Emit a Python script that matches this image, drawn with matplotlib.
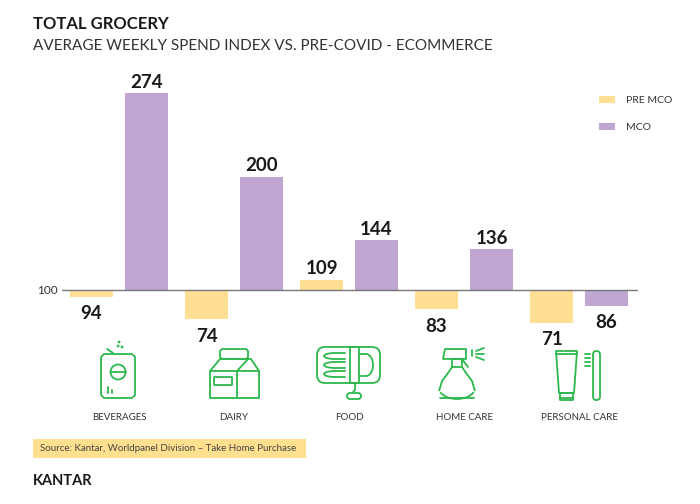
import matplotlib
matplotlib.use("Agg")
import matplotlib.pyplot as plt
import numpy as np
from matplotlib.patches import Rectangle, FancyBboxPatch, Polygon, Circle, Arc
from matplotlib.lines import Line2D

plt.rcParams['font.family'] = ['Lato', 'DejaVu Sans']

categories = ['BEVERAGES', 'DAIRY', 'FOOD', 'HOME CARE', 'PERSONAL CARE']
pre_mco = [94, 74, 109, 83, 71]
mco = [274, 200, 144, 136, 86]
baseline = 100
series_names = ['PRE MCO', 'MCO']

YELLOW = '#FFDF94'
PURPLE = '#BEA6D0'
GREEN = '#2DB84C'
TXT = '#1a1a1a'

W, H = 700, 504
fig = plt.figure(figsize=(7, 5.04), dpi=100)


def fx(px):
    return px / W


def fy(py):
    return 1 - py / H


# main axes: px x 62..638, px y 60..340
ax = fig.add_axes([fx(62), fy(340), fx(576), (340 - 60) / H])
ppu = 1.13  # pixels per index point
ax.set_ylim(baseline - 50 / ppu, baseline + 230 / ppu)
ax.set_xlim(-0.496, 4.513)
ax.axis('off')

x = np.arange(len(categories))
off = 0.239
bw = 0.374
b1 = ax.bar(x - off, np.array(pre_mco) - baseline, bw, bottom=baseline,
            color=YELLOW, label=series_names[0])
b2 = ax.bar(x + off, np.array(mco) - baseline, bw, bottom=baseline,
            color=PURPLE, label=series_names[1])
ax.axhline(baseline, color='#777777', lw=1.0, zorder=3)

for bars, vals in [(b1, pre_mco), (b2, mco)]:
    for r, v in zip(bars, vals):
        cx = r.get_x() + r.get_width() / 2
        if v >= baseline:
            ax.annotate(str(v), (cx, v), xytext=(0, 2), textcoords='offset points',
                        ha='center', va='bottom', fontsize=13.5, fontweight='bold',
                        color=TXT, annotation_clip=False)
        else:
            ax.annotate(str(v), (cx, v), xytext=(0, -6), textcoords='offset points',
                        ha='center', va='top', fontsize=13.5, fontweight='bold',
                        color=TXT, annotation_clip=False)

fig.text(fx(58), fy(290), str(baseline), ha='right', va='center',
         fontsize=8.5, color='#333333')

ax.legend(frameon=False, loc='upper left', bbox_to_anchor=(fx(599), fy(96)),
          bbox_transform=fig.transFigure, fontsize=7.5, handlelength=1.5,
          handleheight=0.6, handletextpad=1.05, labelspacing=1.75,
          borderpad=0, borderaxespad=0, labelcolor='#333333')

# titles
fig.text(fx(33), fy(24), 'TOTAL GROCERY', fontsize=12, fontweight='bold',
         color=TXT, va='center')
fig.text(fx(33), fy(46), 'AVERAGE WEEKLY SPEND INDEX VS. PRE-COVID - ECOMMERCE',
         fontsize=11, fontweight='normal', color='#333333', va='center')

# category labels and icons
centers_px = [ax.transData.transform((xi, 0))[0] for xi in x]
for cxp, cat in zip(centers_px, categories):
    fig.text(fx(cxp), fy(417), cat, ha='center', va='center', fontsize=7,
             color='#333333')

lw = 1.3


def icon_axes(cxp):
    ia = fig.add_axes([fx(cxp - 36), fy(403), fx(72), 64 / H])
    ia.set_xlim(-4, 68)
    ia.set_ylim(0, 64)
    ia.axis('off')
    return ia


def line(ia, xs, ys):
    ia.add_line(Line2D(xs, ys, color=GREEN, lw=lw, solid_capstyle='round'))


def poly(ia, pts, closed=True):
    ia.add_patch(Polygon(pts, closed=closed, fill=False, ec=GREEN, lw=lw,
                         joinstyle='round'))


def rbox(ia, x0, y0, w, h, r):
    ia.add_patch(FancyBboxPatch((x0 + r, y0 + r), w - 2 * r, h - 2 * r,
                                boxstyle='round,pad=%g' % r, fill=False,
                                ec=GREEN, lw=lw))


# beverages: can
ia = icon_axes(centers_px[0])
poly(ia, [(17, 5), (45, 5), (48, 8), (48, 46), (45, 49), (17, 49), (14, 46), (14, 8)])
ia.add_patch(Circle((31, 31), 7.5, fill=False, ec=GREEN, lw=lw))
line(ia, [23.5, 38.5], [31, 31])
line(ia, [21, 21], [16, 10])
line(ia, [25, 25], [13, 10])
line(ia, [20, 26], [54, 50])
for dx, dy in [(31, 57), (32, 61), (35, 56)]:
    ia.add_patch(Circle((dx, dy), 0.7, color=GREEN))

# dairy: milk carton
ia = icon_axes(centers_px[1])
poly(ia, [(8, 5), (57, 5), (57, 32), (49, 44), (18, 44), (8, 32)])
line(ia, [8, 57], [32, 32])
line(ia, [35, 35], [5, 32])
line(ia, [35, 46], [32, 44])
rbox(ia, 18, 44, 28, 10, 3)
rbox(ia, 12, 18, 18, 8, 0.5)

# food: sardine can
ia = icon_axes(centers_px[2])
rbox(ia, 0, 20, 63, 36, 8)
poly(ia, [(33, 20), (42, 20), (42, 56), (33, 56)])
ia.add_patch(Arc((49, 38), 14, 22, theta1=-90, theta2=90, ec=GREEN, lw=lw))
line(ia, [42, 49], [49, 49])
line(ia, [42, 49], [27, 27])
for yy in [47, 38, 29]:
    ia.add_patch(Arc((18, yy), 22, 6, theta1=90, theta2=270, ec=GREEN, lw=lw))
    line(ia, [18, 28], [yy + 3, yy + 3])
    line(ia, [18, 28], [yy - 3, yy - 3])
line(ia, [38, 38, 36], [20, 13, 11])
rbox(ia, 30, 4, 14, 6, 3)

# home care: spray bottle
ia = icon_axes(centers_px[3])
ia.add_patch(Arc((25, 17), 38, 26, theta1=200, theta2=340, ec=GREEN, lw=lw))
line(ia, [7.2, 10, 16, 20], [12.6, 22, 30, 36])
line(ia, [42.8, 40, 34, 30], [12.6, 22, 30, 36])
line(ia, [8, 42], [4.6, 4.6])
poly(ia, [(20, 36), (30, 36), (30, 44), (20, 44)])
poly(ia, [(11, 44), (13, 54), (34, 54), (34, 44)])
line(ia, [30, 36], [44, 36])
line(ia, [40, 40], [47, 53])
line(ia, [44, 52], [52, 55])
line(ia, [44, 52], [49, 49])
line(ia, [44, 52], [46, 43])

# personal care: tube and toothbrush
ia = icon_axes(centers_px[4])
poly(ia, [(9, 52), (30, 52), (27, 10), (12, 10)])
line(ia, [9, 30], [49, 49])
poly(ia, [(13, 10), (26, 10), (26, 3), (13, 3)])
line(ia, [13, 26], [5.5, 5.5])
rbox(ia, 46, 3, 7, 49, 3.5)
for yy in [49, 45, 41, 37]:
    line(ia, [38, 43], [yy, yy])

# source box
fig.add_artist(Rectangle((fx(33), fy(458)), fx(273), 19 / H, transform=fig.transFigure,
                         color='#FFE08F', lw=0))
fig.text(fx(40), fy(448.5), 'Source: Kantar, Worldpanel Division \u2013 Take Home Purchase',
         fontsize=7, color='#444444', va='center')
fig.text(fx(33), fy(481), 'KANTAR', fontsize=10.5, fontweight='bold', color=TXT,
         va='center')

fig.savefig('out.png', dpi=100)
